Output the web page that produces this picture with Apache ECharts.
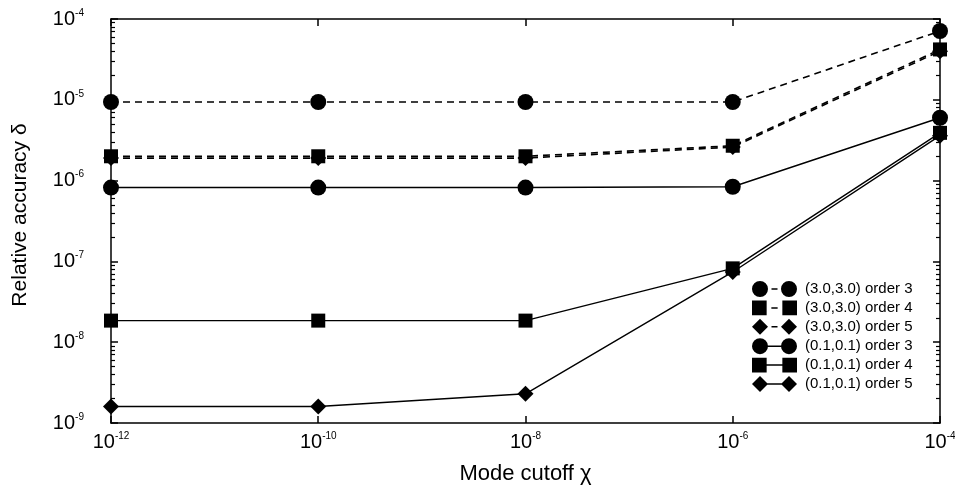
<!DOCTYPE html>
<html>
<head>
<meta charset="utf-8">
<script src="https://cdn.jsdelivr.net/npm/echarts@6/dist/echarts.min.js"></script>
<style>
  html, body { margin: 0; padding: 0; background: #fff; }
  #chart { width: 955px; height: 493px; }
</style>
</head>
<body>
<div id="chart"></div>
<script>
// mode cutoff values (x) and relative accuracy per series (y)
const cutoffs = [1e-12, 1e-10, 1e-8, 1e-6, 1e-4];
const wide3 = [9.4e-6, 9.4e-6, 9.4e-6, 9.4e-6, 7.1e-5];
const wide4 = [2.0e-6, 2.0e-6, 2.0e-6, 2.7e-6, 4.2e-5];
const wide5 = [1.9e-6, 1.9e-6, 1.9e-6, 2.6e-6, 4.0e-5];
const narrow3 = [8.2e-7, 8.2e-7, 8.2e-7, 8.4e-7, 6.0e-6];
const narrow4 = [1.85e-8, 1.85e-8, 1.85e-8, 8.2e-8, 3.9e-6];
const narrow5 = [1.6e-9, 1.6e-9, 2.3e-9, 7.4e-8, 3.6e-6];

const seriesNames = [
  '(3.0,3.0) order 3', '(3.0,3.0) order 4', '(3.0,3.0) order 5',
  '(0.1,0.1) order 3', '(0.1,0.1) order 4', '(0.1,0.1) order 5'
];

const xTicks = [1e-12, 1e-10, 1e-8, 1e-6, 1e-4];
const yTicks = [1e-9, 1e-8, 1e-7, 1e-6, 1e-5, 1e-4];
const yMinorTicks = [];
yTicks.slice(0, -1).forEach((d) => {
  for (let m = 2; m <= 9; m++) yMinorTicks.push(m * d);
});

const FONT = 'Liberation Sans, Arial, sans-serif';

const powLabel = (v) => {
  const e = Math.round(Math.log10(v));
  return '{b|10}{e|' + e + '}';
};
const powRich = {
  b: { fontSize: 20, fontFamily: FONT, color: '#000' },
  e: { fontSize: 10, fontFamily: FONT, color: '#000', verticalAlign: 'bottom', padding: [0, 0, 12, 0] }
};

// legend icons: marker - line - marker
const dot = (cx) => `M${cx - 8},8 A8,8 0 1,1 ${cx + 8},8 A8,8 0 1,1 ${cx - 8},8 Z `;
const sq = (cx) => `M${cx - 7},1 L${cx + 7},1 L${cx + 7},15 L${cx - 7},15 Z `;
const dia = (cx) => `M${cx - 8},8 L${cx},0 L${cx + 8},8 L${cx},16 Z `;
const fullLink = 'M14,7.3 L31,7.3 L31,8.7 L14,8.7 Z ';
const dashLink = 'M19.5,7.3 L25.5,7.3 L25.5,8.7 L19.5,8.7 Z ';
const icon = (m, link) => 'path://' + m(8) + link + m(37);
const icons = [
  icon(dot, dashLink), icon(sq, dashLink), icon(dia, dashLink),
  icon(dot, fullLink), icon(sq, fullLink), icon(dia, fullLink)
];

const chart = echarts.init(document.getElementById('chart'), null, { renderer: 'canvas' });

const lineSeries = (name, values, symbol, size, dashed) => ({
  name,
  type: 'line',
  data: cutoffs.map((x, i) => [x, values[i]]),
  symbol,
  symbolSize: size,
  showSymbol: true,
  itemStyle: { color: '#000' },
  lineStyle: {
    color: '#000',
    width: dashed ? 1.6 : 1.4,
    type: dashed ? [7, 5] : 'solid'
  },
  emphasis: { disabled: true },
  z: 3
});

const xBase = {
  type: 'log',
  logBase: 10,
  min: 1e-12,
  max: 1e-4,
  splitLine: { show: false },
  axisLine: { onZero: false, lineStyle: { color: '#000', width: 1.5 } }
};
const yBase = {
  type: 'log',
  logBase: 10,
  min: 1e-9,
  max: 1e-4,
  splitLine: { show: false },
  axisLine: { onZero: false, lineStyle: { color: '#000', width: 1.5 } }
};

chart.setOption({
  animation: false,
  backgroundColor: '#fff',
  grid: { left: 111, right: 15, top: 19, bottom: 70, containLabel: false, outerBoundsMode: 'none' },
  legend: {
    orient: 'vertical',
    left: 752,
    top: 281,
    padding: 0,
    itemWidth: 45,
    itemHeight: 16,
    itemGap: 3.4,
    textStyle: { fontSize: 15, fontFamily: FONT, color: '#000', padding: [0, 0, 0, 3] },
    data: seriesNames.map((n, i) => ({ name: n, icon: icons[i] }))
  },
  xAxis: [
    {
      ...xBase,
      position: 'bottom',
      name: 'Mode cutoff χ',
      nameLocation: 'middle',
      nameGap: 40,
      nameTextStyle: { fontSize: 22, fontFamily: FONT, color: '#000' },
      axisTick: { inside: true, length: 7, customValues: xTicks, lineStyle: { color: '#000', width: 1.5 } },
      axisLabel: { customValues: xTicks, margin: 8, formatter: powLabel, rich: powRich }
    },
    {
      ...xBase,
      position: 'top',
      axisTick: { inside: true, length: 7, customValues: xTicks, lineStyle: { color: '#000', width: 1.5 } },
      axisLabel: { show: false }
    }
  ],
  yAxis: [
    {
      ...yBase,
      position: 'left',
      name: 'Relative accuracy δ',
      nameLocation: 'middle',
      nameGap: 80,
      nameTextStyle: { fontSize: 21, fontFamily: FONT, color: '#000', padding: [0, 0, 0, 12] },
      axisTick: { inside: true, length: 7, customValues: yTicks, lineStyle: { color: '#000', width: 1.5 } },
      axisLabel: { customValues: yTicks, margin: 27, formatter: powLabel, rich: powRich }
    },
    {
      ...yBase,
      position: 'left',
      axisLine: { show: false },
      axisTick: { inside: true, length: 4, customValues: yMinorTicks, lineStyle: { color: '#000', width: 1.2 } },
      axisLabel: { show: false }
    },
    {
      ...yBase,
      position: 'right',
      axisTick: { inside: true, length: 7, customValues: yTicks, lineStyle: { color: '#000', width: 1.5 } },
      axisLabel: { show: false }
    },
    {
      ...yBase,
      position: 'right',
      axisLine: { show: false },
      axisTick: { inside: true, length: 4, customValues: yMinorTicks, lineStyle: { color: '#000', width: 1.2 } },
      axisLabel: { show: false }
    }
  ],
  series: [
    lineSeries(seriesNames[0], wide3, 'circle', 16, true),
    lineSeries(seriesNames[1], wide4, 'rect', 14, true),
    lineSeries(seriesNames[2], wide5, 'diamond', 16, true),
    lineSeries(seriesNames[3], narrow3, 'circle', 16, false),
    lineSeries(seriesNames[4], narrow4, 'rect', 14, false),
    lineSeries(seriesNames[5], narrow5, 'diamond', 16, false)
  ]
});

window.addEventListener('resize', () => chart.resize());
</script>
</body>
</html>
